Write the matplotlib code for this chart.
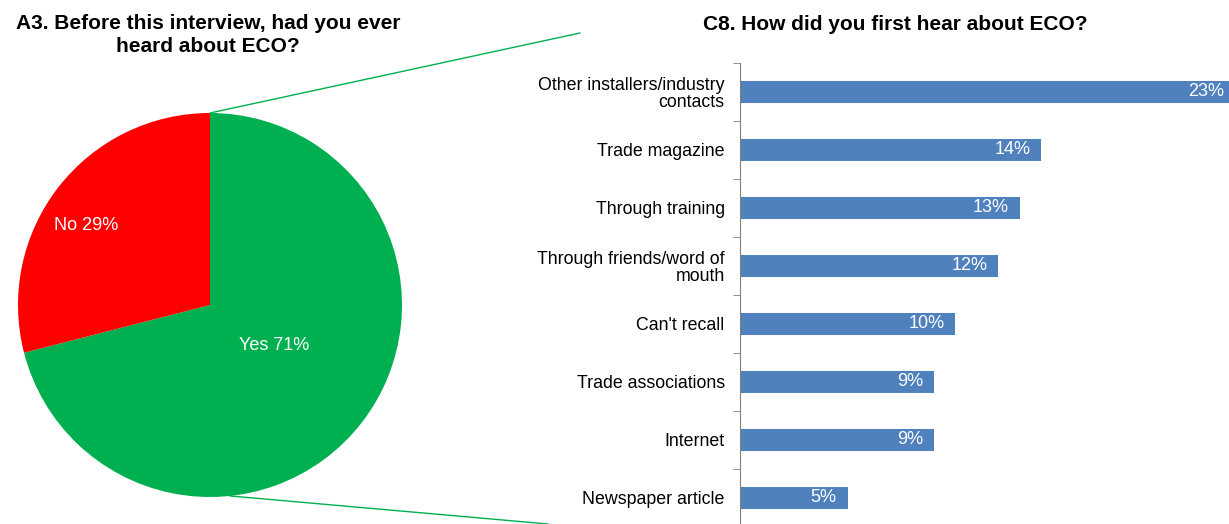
import numpy as np
import matplotlib.pyplot as plt
from matplotlib.patches import ConnectionPatch

plt.rcParams['font.family'] = ['Liberation Sans', 'DejaVu Sans']

# A3 pie data
pie_labels = ["Yes", "No"]
pie_values = [71, 29]
pie_colors = ["#00B050", "#FF0000"]

# C8 bar data (top to bottom)
sources = ["Other installers/industry\ncontacts", "Trade magazine", "Through training",
           "Through friends/word of\nmouth", "Can't recall", "Trade associations",
           "Internet", "Newspaper article"]
source_pct = [23, 14, 13, 12, 10, 9, 9, 5]

W, H = 1229, 524
fig = plt.figure(figsize=(W / 100, H / 100), dpi=100)

# pie on the left
ax_pie = fig.add_axes([18 / W, (H - 497) / H, 384 / W, 384 / H])
wedges, _ = ax_pie.pie(pie_values, colors=pie_colors, startangle=90,
                       counterclock=False, radius=1.0)
ax_pie.set_xlim(-1, 1)
ax_pie.set_ylim(-1, 1)
ax_pie.set_aspect('equal')
label_dist = [0.38, 0.78]
label_turn = [6, 5]
for w, lab, v, d, t in zip(wedges, pie_labels, pie_values, label_dist, label_turn):
    ang = np.deg2rad((w.theta1 + w.theta2) / 2 + t)
    ax_pie.text(d * np.cos(ang) + 0.01, d * np.sin(ang) - 0.01, f"{lab} {v}%", color="white",
                fontsize=13, ha="center", va="center")

fig.text(208 / W, 1 - 35 / H, "A3. Before this interview, had you ever\nheard about ECO?",
         ha="center", va="center", fontsize=15, fontweight="bold", linespacing=1.22)

# connector lines from the pie towards the bar chart
edge_ang = np.deg2rad(-84)
for xy_a, xy_b in [((0, 1), (580 / W, 1 - 33 / H)),
                   ((np.cos(edge_ang), np.sin(edge_ang)), (548 / W, 0.0))]:
    con = ConnectionPatch(xyA=xy_a, coordsA=ax_pie.transData, xyB=xy_b,
                          coordsB=fig.transFigure, color="#00B050", lw=1.0)
    fig.add_artist(con)

# bar chart on the right
top_px, step_px = 63, 58
n = len(sources)
ax_bar = fig.add_axes([740 / W, (H - (top_px + n * step_px)) / H, (W - 740) / W, n * step_px / H])
y = np.arange(n)
ax_bar.barh(y, source_pct, height=0.38, color="#4F81BD")
xmax = (W - 740) / 21.5
ax_bar.set_xlim(0, xmax)
ax_bar.set_ylim(n - 0.5, -0.5)
for yi, v in zip(y, source_pct):
    ax_bar.text(v - 0.5, yi, f"{v}%", color="white", fontsize=13,
                ha="right", va="center", clip_on=False)

ax_bar.set_yticks(y)
ax_bar.set_yticklabels(sources, fontsize=12.8, linespacing=1.0)
ax_bar.tick_params(axis="y", which="major", length=0, pad=11)
ax_bar.set_yticks(np.arange(n + 1) - 0.5, minor=True)
ax_bar.tick_params(axis="y", which="minor", length=5, color="#808080")
ax_bar.set_xticks([])
for s in ["top", "right", "bottom"]:
    ax_bar.spines[s].set_visible(False)
ax_bar.spines["left"].set_color("#808080")

fig.text(895 / W, 1 - 24 / H, "C8. How did you first hear about ECO?",
         ha="center", va="center", fontsize=15, fontweight="bold")

fig.savefig("out.png", dpi=100)
